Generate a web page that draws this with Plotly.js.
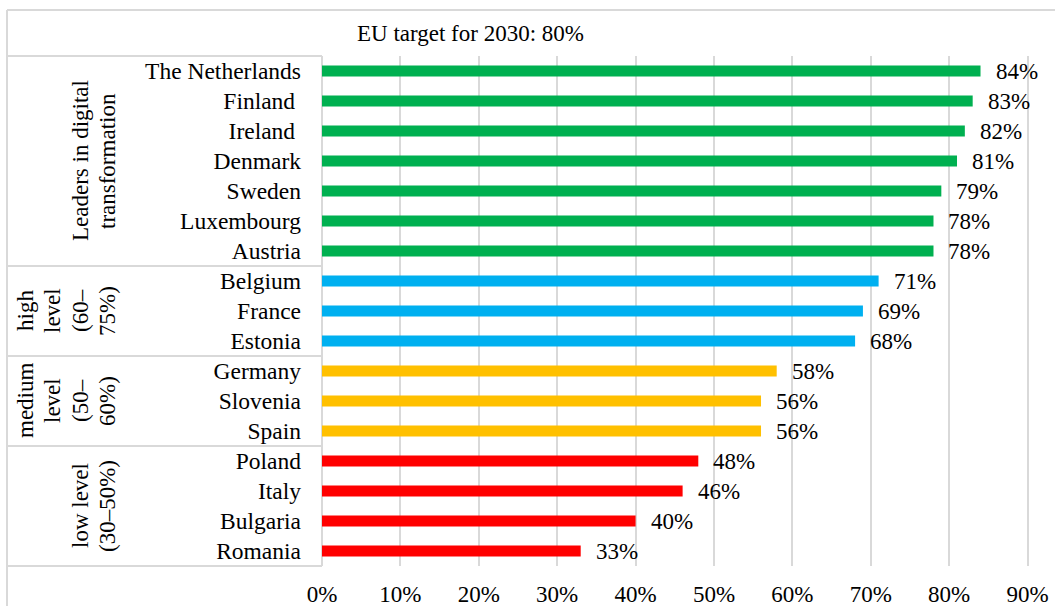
<!DOCTYPE html>
<html>
<head>
<meta charset="utf-8">
<script src="https://cdn.plot.ly/plotly-3.0.1.min.js"></script>
<style>html,body{margin:0;padding:0;background:#fff;}#chart{width:1055px;height:606px;}</style>
</head>
<body>
<div id="chart"></div>
<script>
// ---- data ----
const countries = ["The Netherlands","Finland\u00a0","Ireland\u00a0","Denmark","Sweden","Luxembourg","Austria",
  "Belgium","France","Estonia",
  "Germany","Slovenia","Spain",
  "Poland","Italy","Bulgaria","Romania"];
const values = [0.84,0.83,0.82,0.81,0.79,0.78,0.78, 0.71,0.69,0.68, 0.58,0.56,0.56, 0.48,0.46,0.40,0.33];
const groupOf = [0,0,0,0,0,0,0, 1,1,1, 2,2,2, 3,3,3,3];
const groupColors = ["#00B050","#00B0F0","#FFC000","#FF0000"];
const groupLabels = [["Leaders in digital","transformation"],["high","level","(60–","75%)"],["medium","level","(50–","60%)"],["low level","(30–50%)"]];
const titleText = "EU target for 2030: 80%";

// ---- geometry helpers (pixel -> paper) ----
const W = 1055, H = 606, L = 322, R = 0, T = 56, B = 40;
const pw = W - L - R, ph = H - T - B;
const px = x => (x - L) / pw;
const py = y => (H - B - y) / ph;
const FONT = 'Liberation Serif, Times New Roman, serif';
const GRID = '#d9d9d9';

const trace = {
  type: 'bar', orientation: 'h',
  y: countries, x: values,
  width: 0.36,
  marker: {color: groupOf.map(g => groupColors[g])},
  hoverinfo: 'skip'
};

const annotations = [];
// value labels
values.forEach((v, i) => {
  annotations.push({x: v, y: countries[i], xref: 'x', yref: 'y', text: Math.round(v*100) + '%',
    showarrow: false, xanchor: 'left', yanchor: 'middle', xshift: 13,
    font: {family: FONT, size: 23, color: '#000'}});
});
// title
annotations.push({x: px(470), y: py(34), xref: 'paper', yref: 'paper', text: titleText, showarrow: false,
  xanchor: 'center', yanchor: 'middle', font: {family: FONT, size: 23, color: '#000'}});
// group labels
const groupSizes = [0,0,0,0];
groupOf.forEach(g => groupSizes[g]++);
const lineX4 = [25, 52, 80, 107];
let start = 0;
groupLabels.forEach((lines, g) => {
  const top = T + start * 30, bot = T + (start + groupSizes[g]) * 30;
  const cy = (top + bot) / 2;
  const xs = lineX4.slice(4 - lines.length);
  lines.forEach((ln, k) => {
    annotations.push({x: px(xs[k]), y: py(cy), xref: 'paper', yref: 'paper', text: ln, showarrow: false,
      textangle: -90, xanchor: 'center', yanchor: 'middle', font: {family: FONT, size: 23, color: '#000'}});
  });
  start += groupSizes[g];
});

// table lines
const shapes = [];
const ln = (x0, y0, x1, y1) => shapes.push({type: 'line', xref: 'paper', yref: 'paper',
  x0: px(x0), y0: py(y0), x1: px(x1), y1: py(y1), line: {color: GRID, width: 2}, layer: 'below'});
ln(7, 10, 1055, 10);
ln(7, 10, 7, 606);
ln(7, 56, 322, 56);
ln(322, 56, 322, 566);
let acc = 0;
groupSizes.forEach(s => { acc += s; ln(7, T + acc * 30, 322, T + acc * 30); });

const layout = {
  width: W, height: H,
  margin: {l: L, r: R, t: T, b: B, pad: 0},
  paper_bgcolor: '#fff', plot_bgcolor: '#fff',
  showlegend: false,
  font: {family: FONT, size: 23, color: '#000'},
  xaxis: {range: [0, 0.935], dtick: 0.1, tick0: 0, tickformat: '.0%', showgrid: true, gridcolor: GRID, gridwidth: 2,
    zeroline: false, showline: false, ticks: '', ticklabelstandoff: 12, automargin: false,
    tickfont: {family: FONT, size: 23, color: '#000'}},
  yaxis: {type: 'category', categoryorder: 'array', categoryarray: countries, range: [16.5, -0.5],
    showgrid: false, zeroline: false, showline: false, ticks: '', ticklabelstandoff: 20, automargin: false,
    tickfont: {family: FONT, size: 23.5, color: '#000'}},
  annotations: annotations,
  shapes: shapes
};

Plotly.newPlot('chart', [trace], layout, {displayModeBar: false, staticPlot: true});
</script>
</body>
</html>
